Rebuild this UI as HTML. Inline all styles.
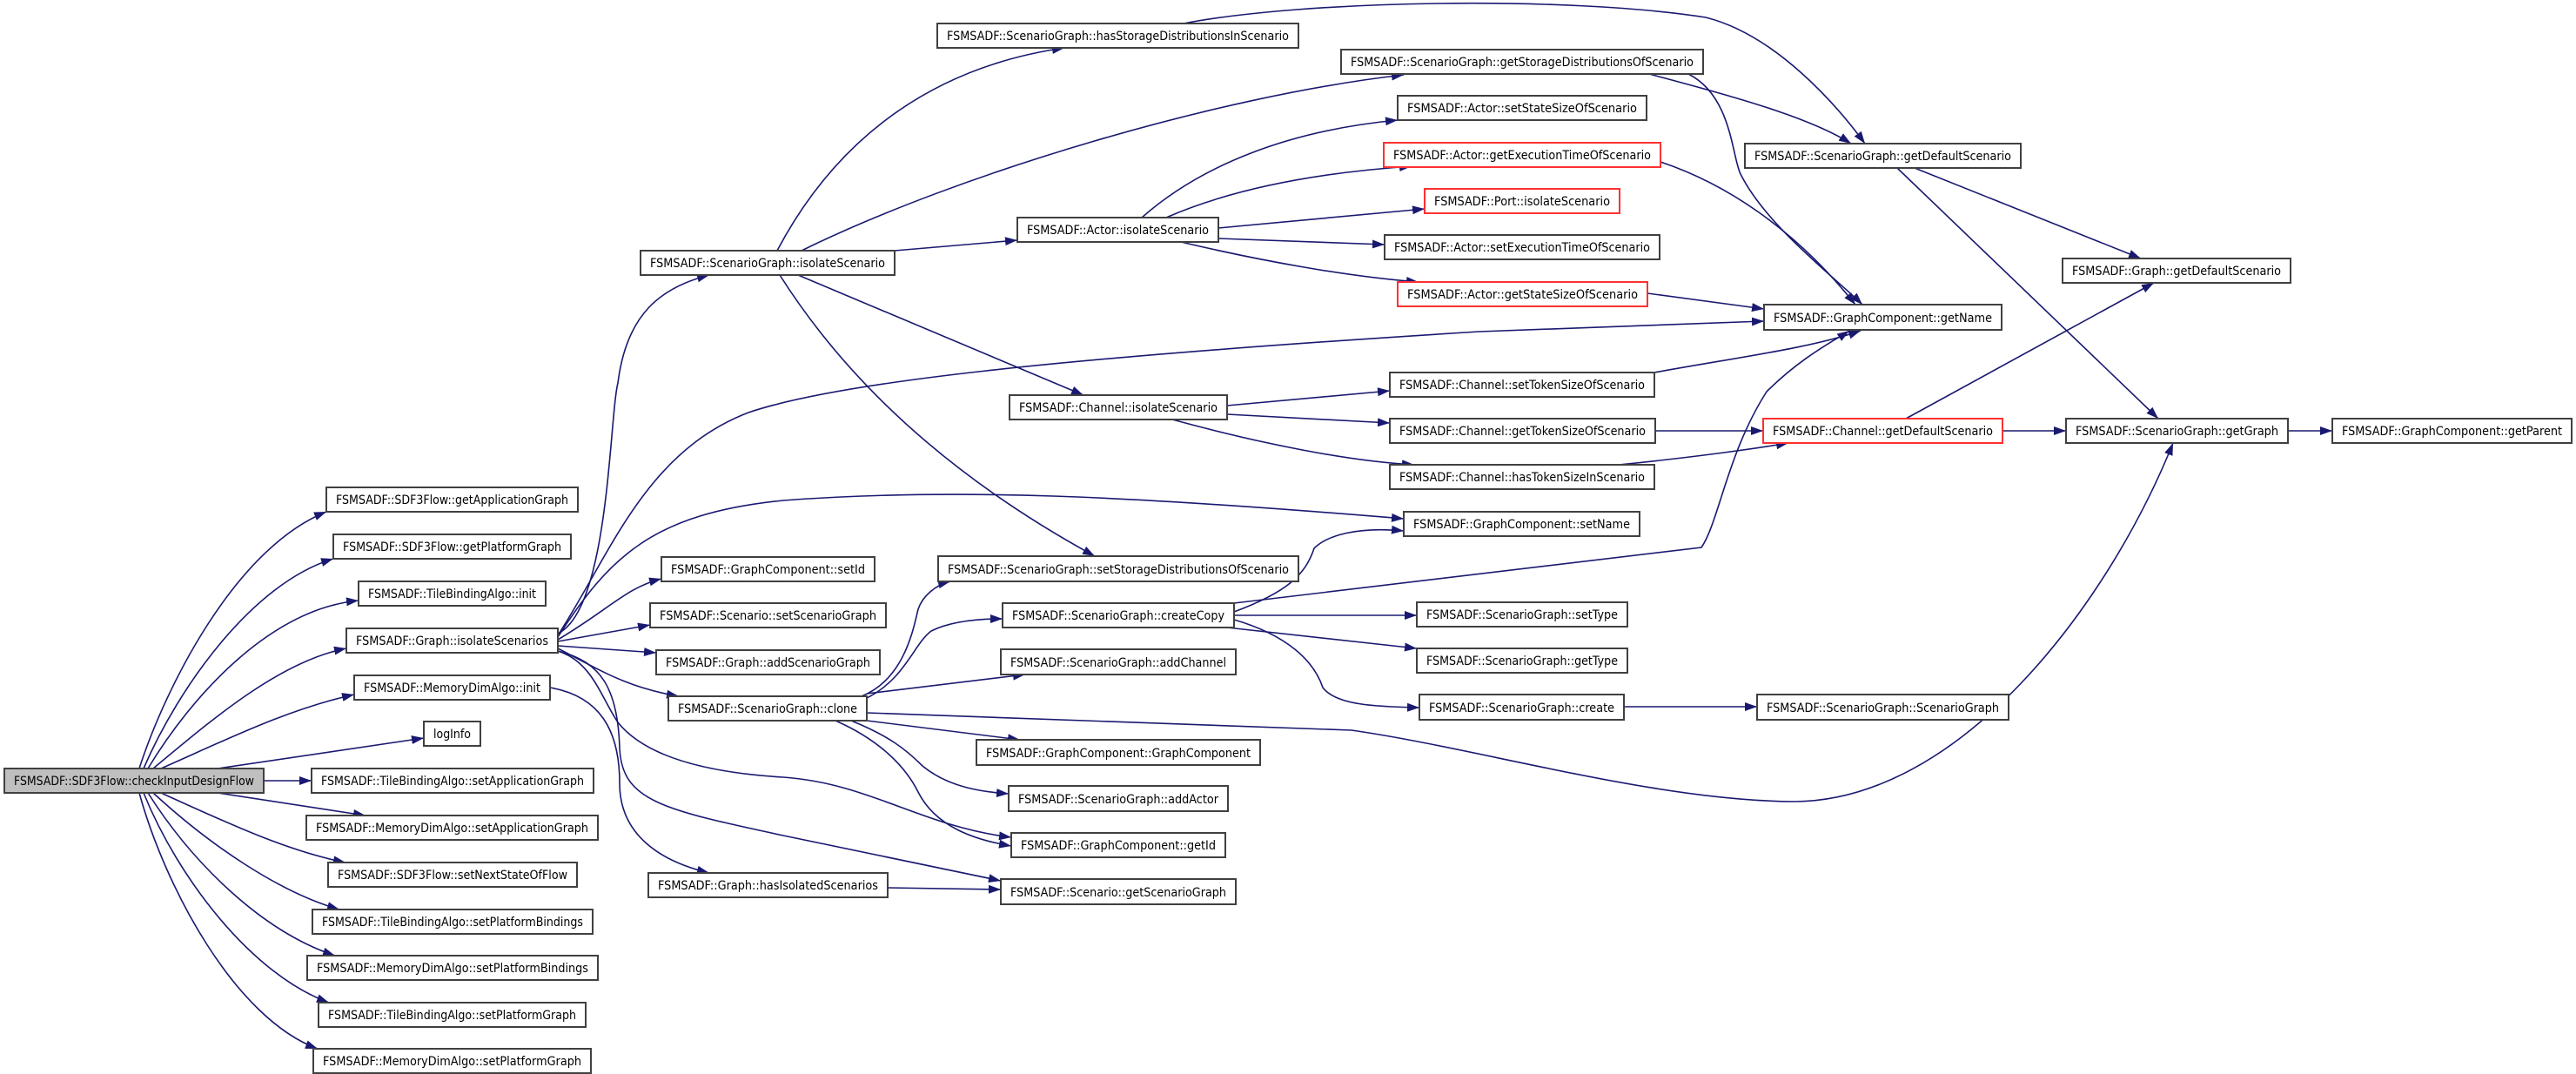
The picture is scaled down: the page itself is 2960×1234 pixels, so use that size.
<!DOCTYPE html>
<html><head><meta charset="utf-8">
<style>
html,body{margin:0;padding:0;background:#fff;}
svg{display:block;}
text{font-family:"DejaVu Sans","Liberation Sans",sans-serif;font-size:14px;fill:#000;}
.n{fill:#fff;stroke:#404040;stroke-width:2;}
.r{fill:#fff;stroke:#ff3030;stroke-width:2;}
.g{fill:#bfbfbf;stroke:#404040;stroke-width:2;}
.e{fill:none;stroke:#191970;stroke-width:1.6;}
</style></head><body>
<svg width="2960" height="1234" viewBox="0 0 2960 1234" xmlns="http://www.w3.org/2000/svg">
<defs>
<marker id="a" markerUnits="userSpaceOnUse" markerWidth="16" markerHeight="12" refX="14" refY="5" orient="auto">
<path d="M0,0 L14,5 L0,10 Z" fill="#191970"/>
</marker>
</defs>
<g class="edges">
<path class="e" marker-end="url(#a)" d="M160,883 C190,790 270,630 375,588"/>
<path class="e" marker-end="url(#a)" d="M165,883 C205,790 290,670 383,642"/>
<path class="e" marker-end="url(#a)" d="M170,883 C220,800 310,700 412,690"/>
<path class="e" marker-end="url(#a)" d="M176,883 C240,830 320,760 398,745"/>
<path class="e" marker-end="url(#a)" d="M185,883 C260,850 330,815 407,798"/>
<path class="e" marker-end="url(#a)" d="M250,883 L487,848"/>
<path class="e" marker-end="url(#a)" d="M303,897 L358,897"/>
<path class="e" marker-end="url(#a)" d="M250,911 L420,937"/>
<path class="e" marker-end="url(#a)" d="M185,911 C260,945 330,978 397,991"/>
<path class="e" marker-end="url(#a)" d="M176,911 C240,970 320,1025 390,1045"/>
<path class="e" marker-end="url(#a)" d="M170,911 C220,990 300,1070 385,1098"/>
<path class="e" marker-end="url(#a)" d="M165,911 C205,1010 290,1120 378,1152"/>
<path class="e" marker-end="url(#a)" d="M160,911 C190,1020 270,1170 365,1205"/>
<path class="e" marker-end="url(#a)" d="M641,728 C700,700 700,480 710,440 C720,360 760,330 815,316"/>
<path class="e" marker-end="url(#a)" d="M641,730 C700,640 740,520 860,474 C960,440 1200,412 1700,381 L2027,369"/>
<path class="e" marker-end="url(#a)" d="M641,732 C700,640 750,590 900,575 C1100,560 1300,570 1613,596"/>
<path class="e" marker-end="url(#a)" d="M641,735 C700,700 720,675 760,665"/>
<path class="e" marker-end="url(#a)" d="M641,737 L747,718"/>
<path class="e" marker-end="url(#a)" d="M641,742 L754,750"/>
<path class="e" marker-end="url(#a)" d="M641,745 C690,770 720,790 780,800"/>
<path class="e" marker-end="url(#a)" d="M641,748 C680,760 690,800 710,830 C750,880 850,890 900,893 C1000,900 1060,950 1162,962"/>
<path class="e" marker-end="url(#a)" d="M641,748 C690,760 710,790 712,860 C715,920 760,930 900,960 L1150,1012"/>
<path class="e" marker-end="url(#a)" d="M632,790 C690,800 712,840 712,900 C712,960 760,990 815,1003"/>
<path class="e" marker-end="url(#a)" d="M1020,1020 L1150,1022"/>
<path class="e" marker-end="url(#a)" d="M893,288 C950,180 1050,80 1223,55"/>
<path class="e" marker-end="url(#a)" d="M921,288 C1100,200 1400,110 1613,86"/>
<path class="e" marker-end="url(#a)" d="M1028,288 L1169,276"/>
<path class="e" marker-end="url(#a)" d="M917,316 L1245,454"/>
<path class="e" marker-end="url(#a)" d="M896,316 C1000,480 1150,580 1258,639"/>
<path class="e" marker-end="url(#a)" d="M1312,250 C1380,190 1480,150 1606,138"/>
<path class="e" marker-end="url(#a)" d="M1340,250 C1420,215 1520,198 1622,191"/>
<path class="e" marker-end="url(#a)" d="M1400,262 L1637,240"/>
<path class="e" marker-end="url(#a)" d="M1400,274 L1591,281"/>
<path class="e" marker-end="url(#a)" d="M1357,278 C1450,300 1550,318 1630,324"/>
<path class="e" marker-end="url(#a)" d="M1410,466 L1597,449"/>
<path class="e" marker-end="url(#a)" d="M1410,476 L1597,486"/>
<path class="e" marker-end="url(#a)" d="M1347,482 C1450,510 1550,530 1625,534"/>
<path class="e" marker-end="url(#a)" d="M1895,85 C1990,110 2080,135 2127,165"/>
<path class="e" marker-end="url(#a)" d="M1940,85 C1990,110 1990,180 2000,200 C2030,260 2110,320 2140,350"/>
<path class="e" marker-end="url(#a)" d="M1360,27 C1500,0 1800,-5 1960,20 C2040,40 2110,120 2143,165"/>
<path class="e" marker-end="url(#a)" d="M1908,186 C1980,210 2060,260 2132,350"/>
<path class="e" marker-end="url(#a)" d="M1893,337 L2027,355"/>
<path class="e" marker-end="url(#a)" d="M1901,428 C2000,410 2080,400 2138,380"/>
<path class="e" marker-end="url(#a)" d="M1418,693 L1955,629 C1975,600 1985,520 2030,450 C2070,410 2110,390 2125,380"/>
<path class="e" marker-end="url(#a)" d="M1902,495 L2026,495"/>
<path class="e" marker-end="url(#a)" d="M1860,534 C1950,525 2020,515 2055,509"/>
<path class="e" marker-end="url(#a)" d="M2200,193 L2460,297"/>
<path class="e" marker-end="url(#a)" d="M2180,193 L2480,481"/>
<path class="e" marker-end="url(#a)" d="M2190,481 L2475,325"/>
<path class="e" marker-end="url(#a)" d="M2301,495 L2374,495"/>
<path class="e" marker-end="url(#a)" d="M2629,495 L2680,495"/>
<path class="e" marker-end="url(#a)" d="M996,819 L1553,839 C1700,860 1900,920 2062,921 C2250,920 2420,700 2497,509"/>
<path class="e" marker-end="url(#a)" d="M990,800 C1040,780 1050,720 1055,700 C1060,685 1075,672 1092,668"/>
<path class="e" marker-end="url(#a)" d="M996,802 C1040,780 1050,740 1070,725 C1090,715 1120,711 1152,711"/>
<path class="e" marker-end="url(#a)" d="M996,797 L1178,775"/>
<path class="e" marker-end="url(#a)" d="M996,828 L1172,850"/>
<path class="e" marker-end="url(#a)" d="M978,828 C1020,845 1040,860 1060,880 C1090,905 1130,910 1159,912"/>
<path class="e" marker-end="url(#a)" d="M960,828 C1010,850 1040,880 1055,910 C1075,950 1120,965 1162,972"/>
<path class="e" marker-end="url(#a)" d="M1418,703 C1480,680 1500,660 1510,630 C1525,615 1560,605 1613,610"/>
<path class="e" marker-end="url(#a)" d="M1418,707 L1628,707"/>
<path class="e" marker-end="url(#a)" d="M1410,721 L1628,745"/>
<path class="e" marker-end="url(#a)" d="M1418,712 C1480,730 1510,760 1520,790 C1535,810 1580,812 1631,813"/>
<path class="e" marker-end="url(#a)" d="M1866,812 L2019,812"/>
</g>
<g class="nodes">
<rect class="g" x="5" y="883" width="298" height="28"/><text x="154" y="902" text-anchor="middle" textLength="276" lengthAdjust="spacingAndGlyphs">FSMSADF::SDF3Flow::checkInputDesignFlow</text>
<rect class="n" x="375" y="560" width="289" height="28"/><text x="519.5" y="579" text-anchor="middle" textLength="267" lengthAdjust="spacingAndGlyphs">FSMSADF::SDF3Flow::getApplicationGraph</text>
<rect class="n" x="383" y="614" width="273" height="28"/><text x="519.5" y="633" text-anchor="middle" textLength="251" lengthAdjust="spacingAndGlyphs">FSMSADF::SDF3Flow::getPlatformGraph</text>
<rect class="n" x="412" y="668" width="215" height="28"/><text x="519.5" y="687" text-anchor="middle" textLength="193" lengthAdjust="spacingAndGlyphs">FSMSADF::TileBindingAlgo::init</text>
<rect class="n" x="398" y="722" width="243" height="28"/><text x="519.5" y="741" text-anchor="middle" textLength="221" lengthAdjust="spacingAndGlyphs">FSMSADF::Graph::isolateScenarios</text>
<rect class="n" x="407" y="776" width="225" height="28"/><text x="519.5" y="795" text-anchor="middle" textLength="203" lengthAdjust="spacingAndGlyphs">FSMSADF::MemoryDimAlgo::init</text>
<rect class="n" x="487" y="829" width="65" height="28"/><text x="519.5" y="848" text-anchor="middle" textLength="43" lengthAdjust="spacingAndGlyphs">logInfo</text>
<rect class="n" x="358" y="883" width="324" height="28"/><text x="520" y="902" text-anchor="middle" textLength="302" lengthAdjust="spacingAndGlyphs">FSMSADF::TileBindingAlgo::setApplicationGraph</text>
<rect class="n" x="352" y="937" width="335" height="28"/><text x="519.5" y="956" text-anchor="middle" textLength="313" lengthAdjust="spacingAndGlyphs">FSMSADF::MemoryDimAlgo::setApplicationGraph</text>
<rect class="n" x="377" y="991" width="286" height="28"/><text x="520" y="1010" text-anchor="middle" textLength="264" lengthAdjust="spacingAndGlyphs">FSMSADF::SDF3Flow::setNextStateOfFlow</text>
<rect class="n" x="359" y="1045" width="322" height="28"/><text x="520" y="1064" text-anchor="middle" textLength="300" lengthAdjust="spacingAndGlyphs">FSMSADF::TileBindingAlgo::setPlatformBindings</text>
<rect class="n" x="353" y="1098" width="334" height="28"/><text x="520" y="1117" text-anchor="middle" textLength="312" lengthAdjust="spacingAndGlyphs">FSMSADF::MemoryDimAlgo::setPlatformBindings</text>
<rect class="n" x="366" y="1152" width="307" height="28"/><text x="519.5" y="1171" text-anchor="middle" textLength="285" lengthAdjust="spacingAndGlyphs">FSMSADF::TileBindingAlgo::setPlatformGraph</text>
<rect class="n" x="360" y="1205" width="319" height="28"/><text x="519.5" y="1224" text-anchor="middle" textLength="297" lengthAdjust="spacingAndGlyphs">FSMSADF::MemoryDimAlgo::setPlatformGraph</text>
<rect class="n" x="736" y="288" width="292" height="28"/><text x="882" y="307" text-anchor="middle" textLength="270" lengthAdjust="spacingAndGlyphs">FSMSADF::ScenarioGraph::isolateScenario</text>
<rect class="n" x="760" y="640" width="245" height="28"/><text x="882.5" y="659" text-anchor="middle" textLength="223" lengthAdjust="spacingAndGlyphs">FSMSADF::GraphComponent::setId</text>
<rect class="n" x="747" y="693" width="271" height="28"/><text x="882.5" y="712" text-anchor="middle" textLength="249" lengthAdjust="spacingAndGlyphs">FSMSADF::Scenario::setScenarioGraph</text>
<rect class="n" x="754" y="747" width="257" height="28"/><text x="882.5" y="766" text-anchor="middle" textLength="235" lengthAdjust="spacingAndGlyphs">FSMSADF::Graph::addScenarioGraph</text>
<rect class="n" x="768" y="800" width="228" height="28"/><text x="882" y="819" text-anchor="middle" textLength="206" lengthAdjust="spacingAndGlyphs">FSMSADF::ScenarioGraph::clone</text>
<rect class="n" x="745" y="1003" width="275" height="28"/><text x="882.5" y="1022" text-anchor="middle" textLength="253" lengthAdjust="spacingAndGlyphs">FSMSADF::Graph::hasIsolatedScenarios</text>
<rect class="n" x="1077" y="27" width="415" height="28"/><text x="1284.5" y="46" text-anchor="middle" textLength="393" lengthAdjust="spacingAndGlyphs">FSMSADF::ScenarioGraph::hasStorageDistributionsInScenario</text>
<rect class="n" x="1169" y="250" width="231" height="28"/><text x="1284.5" y="269" text-anchor="middle" textLength="209" lengthAdjust="spacingAndGlyphs">FSMSADF::Actor::isolateScenario</text>
<rect class="n" x="1160" y="454" width="250" height="28"/><text x="1285" y="473" text-anchor="middle" textLength="228" lengthAdjust="spacingAndGlyphs">FSMSADF::Channel::isolateScenario</text>
<rect class="n" x="1078" y="639" width="414" height="29"/><text x="1285" y="659" text-anchor="middle" textLength="392" lengthAdjust="spacingAndGlyphs">FSMSADF::ScenarioGraph::setStorageDistributionsOfScenario</text>
<rect class="n" x="1152" y="693" width="266" height="28"/><text x="1285" y="712" text-anchor="middle" textLength="244" lengthAdjust="spacingAndGlyphs">FSMSADF::ScenarioGraph::createCopy</text>
<rect class="n" x="1150" y="746" width="270" height="29"/><text x="1285" y="766" text-anchor="middle" textLength="248" lengthAdjust="spacingAndGlyphs">FSMSADF::ScenarioGraph::addChannel</text>
<rect class="n" x="1122" y="850" width="326" height="29"/><text x="1285" y="870" text-anchor="middle" textLength="304" lengthAdjust="spacingAndGlyphs">FSMSADF::GraphComponent::GraphComponent</text>
<rect class="n" x="1159" y="903" width="252" height="29"/><text x="1285" y="923" text-anchor="middle" textLength="230" lengthAdjust="spacingAndGlyphs">FSMSADF::ScenarioGraph::addActor</text>
<rect class="n" x="1162" y="957" width="246" height="28"/><text x="1285" y="976" text-anchor="middle" textLength="224" lengthAdjust="spacingAndGlyphs">FSMSADF::GraphComponent::getId</text>
<rect class="n" x="1150" y="1010" width="270" height="29"/><text x="1285" y="1030" text-anchor="middle" textLength="248" lengthAdjust="spacingAndGlyphs">FSMSADF::Scenario::getScenarioGraph</text>
<rect class="n" x="1541" y="57" width="416" height="28"/><text x="1749" y="76" text-anchor="middle" textLength="394" lengthAdjust="spacingAndGlyphs">FSMSADF::ScenarioGraph::getStorageDistributionsOfScenario</text>
<rect class="n" x="1606" y="110" width="286" height="28"/><text x="1749" y="129" text-anchor="middle" textLength="264" lengthAdjust="spacingAndGlyphs">FSMSADF::Actor::setStateSizeOfScenario</text>
<rect class="r" x="1590" y="164" width="318" height="28"/><text x="1749" y="183" text-anchor="middle" textLength="296" lengthAdjust="spacingAndGlyphs">FSMSADF::Actor::getExecutionTimeOfScenario</text>
<rect class="r" x="1637" y="217" width="224" height="28"/><text x="1749" y="236" text-anchor="middle" textLength="202" lengthAdjust="spacingAndGlyphs">FSMSADF::Port::isolateScenario</text>
<rect class="n" x="1591" y="270" width="316" height="28"/><text x="1749" y="289" text-anchor="middle" textLength="294" lengthAdjust="spacingAndGlyphs">FSMSADF::Actor::setExecutionTimeOfScenario</text>
<rect class="r" x="1606" y="324" width="287" height="28"/><text x="1749.5" y="343" text-anchor="middle" textLength="265" lengthAdjust="spacingAndGlyphs">FSMSADF::Actor::getStateSizeOfScenario</text>
<rect class="n" x="1597" y="428" width="304" height="28"/><text x="1749" y="447" text-anchor="middle" textLength="282" lengthAdjust="spacingAndGlyphs">FSMSADF::Channel::setTokenSizeOfScenario</text>
<rect class="n" x="1597" y="481" width="305" height="28"/><text x="1749.5" y="500" text-anchor="middle" textLength="283" lengthAdjust="spacingAndGlyphs">FSMSADF::Channel::getTokenSizeOfScenario</text>
<rect class="n" x="1597" y="534" width="304" height="28"/><text x="1749" y="553" text-anchor="middle" textLength="282" lengthAdjust="spacingAndGlyphs">FSMSADF::Channel::hasTokenSizeInScenario</text>
<rect class="n" x="1613" y="588" width="271" height="28"/><text x="1748.5" y="607" text-anchor="middle" textLength="249" lengthAdjust="spacingAndGlyphs">FSMSADF::GraphComponent::setName</text>
<rect class="n" x="1628" y="692" width="242" height="28"/><text x="1749" y="711" text-anchor="middle" textLength="220" lengthAdjust="spacingAndGlyphs">FSMSADF::ScenarioGraph::setType</text>
<rect class="n" x="1628" y="745" width="242" height="28"/><text x="1749" y="764" text-anchor="middle" textLength="220" lengthAdjust="spacingAndGlyphs">FSMSADF::ScenarioGraph::getType</text>
<rect class="n" x="1631" y="798" width="235" height="29"/><text x="1748.5" y="818" text-anchor="middle" textLength="213" lengthAdjust="spacingAndGlyphs">FSMSADF::ScenarioGraph::create</text>
<rect class="n" x="2005" y="165" width="317" height="28"/><text x="2163.5" y="184" text-anchor="middle" textLength="295" lengthAdjust="spacingAndGlyphs">FSMSADF::ScenarioGraph::getDefaultScenario</text>
<rect class="n" x="2027" y="350" width="273" height="29"/><text x="2163.5" y="370" text-anchor="middle" textLength="251" lengthAdjust="spacingAndGlyphs">FSMSADF::GraphComponent::getName</text>
<rect class="r" x="2026" y="481" width="275" height="28"/><text x="2163.5" y="500" text-anchor="middle" textLength="253" lengthAdjust="spacingAndGlyphs">FSMSADF::Channel::getDefaultScenario</text>
<rect class="n" x="2019" y="798" width="289" height="29"/><text x="2163.5" y="818" text-anchor="middle" textLength="267" lengthAdjust="spacingAndGlyphs">FSMSADF::ScenarioGraph::ScenarioGraph</text>
<rect class="n" x="2370" y="297" width="262" height="28"/><text x="2501" y="316" text-anchor="middle" textLength="240" lengthAdjust="spacingAndGlyphs">FSMSADF::Graph::getDefaultScenario</text>
<rect class="n" x="2374" y="481" width="255" height="28"/><text x="2501.5" y="500" text-anchor="middle" textLength="233" lengthAdjust="spacingAndGlyphs">FSMSADF::ScenarioGraph::getGraph</text>
<rect class="n" x="2680" y="481" width="275" height="28"/><text x="2817.5" y="500" text-anchor="middle" textLength="253" lengthAdjust="spacingAndGlyphs">FSMSADF::GraphComponent::getParent</text>
</g>
</svg>
</body></html>
